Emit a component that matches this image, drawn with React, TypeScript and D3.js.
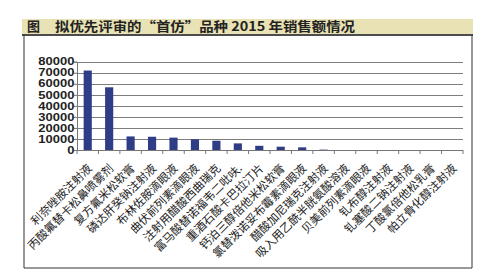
import React, { useEffect, useRef } from 'react';
import * as d3 from 'd3';

const titleLabel = '图';
const titleText = '拟优先评审的“首仿”品种 2015 年销售额情况';

const products = [
  '利奈唑胺注射液',
  '丙酸氟替卡松鼻喷雾剂',
  '复方氟米松软膏',
  '磷达肝癸钠注射液',
  '布林佐胺滴眼液',
  '曲伏前列素滴眼液',
  '注射用醋酸西曲瑞克',
  '富马酸替诺福韦二吡呋.',
  '重酒石酸卡巴拉汀片',
  '钙泊三醇倍他米松软膏',
  '氯替泼诺妥布霉素滴眼液',
  '醋酸加尼瑞克注射液',
  '吸入用乙酰半胱氨酸溶液',
  '贝美前列素滴眼液',
  '钆布醇注射液',
  '钆塞酸二钠注射液',
  '丁酸氯倍他松乳膏',
  '帕立骨化醇注射液',
];

const sales = [72000, 56800, 12300, 12000, 11200, 9700, 8400, 6000, 3800, 3000, 2400, 800, 0, 0, 0, 0, 0, 0];

const yTicks = [0, 10000, 20000, 30000, 40000, 50000, 60000, 70000, 80000];

const W = 489;
const H = 280;

const App = () => {
  const ref = useRef<SVGSVGElement>(null);

  useEffect(() => {
    const svg = d3.select(ref.current);
    svg.selectAll('*').remove();

    const plot = { left: 77, right: 463, top: 61.7, bottom: 150 };

    // title bar
    svg.append('rect')
      .attr('x', 22).attr('y', 19).attr('width', 451).attr('height', 15)
      .attr('fill', '#e9e2b4');
    svg.append('text')
      .attr('x', 27).attr('y', 31)
      .style('font-family', '"Noto Sans CJK SC", sans-serif')
      .style('font-size', '13px')
      .style('font-weight', 'bold')
      .attr('fill', '#222')
      .text(titleLabel);
    svg.append('text')
      .attr('x', 55).attr('y', 31)
      .attr('textLength', 300)
      .attr('lengthAdjust', 'spacingAndGlyphs')
      .style('font-family', '"Noto Sans CJK SC", sans-serif')
      .style('font-size', '13px')
      .style('font-weight', 'bold')
      .attr('fill', '#222')
      .text(titleText);
    svg.append('line')
      .attr('x1', 22).attr('x2', 473).attr('y1', 35).attr('y2', 35)
      .attr('stroke', '#111').attr('stroke-width', 1.5);

    // chart frame
    svg.append('path')
      .attr('d', 'M24,35V268H472V35')
      .attr('fill', 'none')
      .attr('stroke', '#333')
      .attr('stroke-width', 1);

    const x = d3.scaleBand()
      .domain(products)
      .range([plot.left, plot.right])
      .paddingInner(0.62)
      .paddingOuter(0.31);

    const y = d3.scaleLinear()
      .domain([0, 80000])
      .range([plot.bottom, plot.top]);

    // gridlines
    svg.append('g')
      .selectAll('line')
      .data(yTicks.filter(d => d > 0))
      .enter().append('line')
      .attr('x1', plot.left).attr('x2', plot.right)
      .attr('y1', d => Math.round(y(d)) + 0.5).attr('y2', d => Math.round(y(d)) + 0.5)
      .attr('stroke', '#7d7d7d')
      .attr('stroke-width', 1);

    // y axis
    const yAxis = svg.append('g')
      .attr('transform', `translate(${plot.left},0)`)
      .call(d3.axisLeft(y).tickValues(yTicks).tickSize(3).tickFormat(d3.format('d')));
    yAxis.select('.domain').attr('stroke', '#777');
    yAxis.selectAll('line').attr('stroke', '#777');
    yAxis.selectAll('text')
      .attr('x', -2)
      .attr('fill', '#222')
      .style('font-family', 'Arial, "Liberation Sans", sans-serif')
      .style('font-size', '10px')
      .style('font-weight', 'bold')
      .attr('transform', 'scale(1.3,1)');

    // bars
    svg.append('g')
      .selectAll('rect')
      .data(sales)
      .enter().append('rect')
      .attr('x', (d, i) => x(products[i]))
      .attr('y', d => y(d))
      .attr('width', x.bandwidth())
      .attr('height', d => y(0) - y(d))
      .attr('fill', d => (d < 1000 ? '#a9aec8' : '#2e3d85'));

    // x axis
    const step = x.step();
    const xAxis = svg.append('g');
    xAxis.append('line')
      .attr('x1', plot.left).attr('x2', plot.right)
      .attr('y1', y(0) + 0.5).attr('y2', y(0) + 0.5)
      .attr('stroke', '#777');
    xAxis.selectAll('.tick')
      .data(d3.range(products.length + 1))
      .enter().append('line')
      .attr('class', 'tick')
      .attr('x1', i => plot.left + i * step).attr('x2', i => plot.left + i * step)
      .attr('y1', y(0)).attr('y2', y(0) + 4)
      .attr('stroke', '#777');

    xAxis.selectAll('.lab')
      .data(products)
      .enter().append('text')
      .attr('class', 'lab')
      .attr('text-anchor', 'end')
      .attr('transform', d => `translate(${(x(d) as number) + x.bandwidth() / 2 + 5},${y(0) + 19}) rotate(-45)`)
      .attr('fill', '#222')
      .style('font-family', '"Noto Sans CJK SC", sans-serif')
      .style('font-size', '11.5px')
      .text(d => d);
  }, []);

  return (
    <svg
      ref={ref}
      width={W}
      height={H}
      style={{ position: 'absolute', left: 0, top: 0, background: '#fff' }}
    />
  );
};

export default App;
